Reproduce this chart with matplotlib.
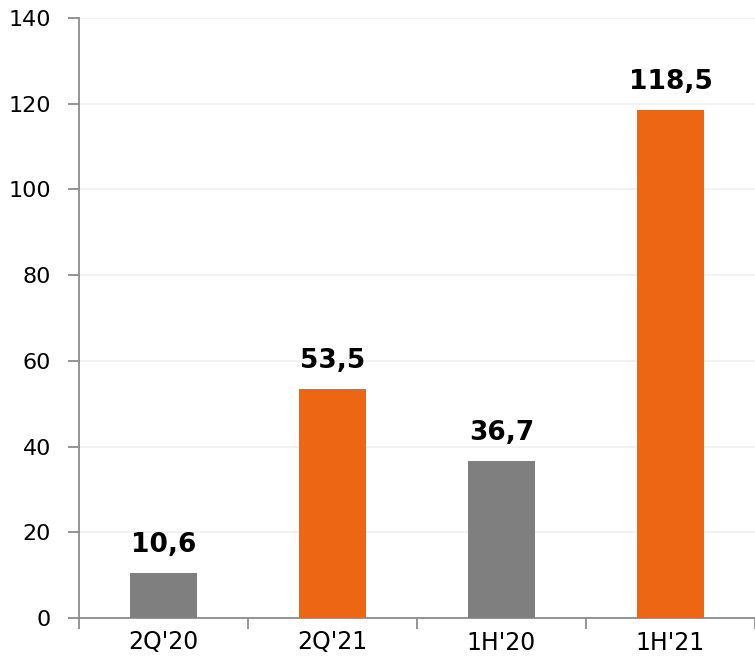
import matplotlib
matplotlib.use("Agg")
import matplotlib.pyplot as plt
from matplotlib.ticker import FixedLocator, NullFormatter

categories = ["2Q'20", "2Q'21", "1H'20", "1H'21"]
values = [10.6, 53.5, 36.7, 118.5]
bar_colors = ["#7F7F7F", "#EC6614", "#7F7F7F", "#EC6614"]
y_ticks = [0, 20, 40, 60, 80, 100, 120, 140]

AXC = "#8C8C8C"
plt.rcParams["font.family"] = "DejaVu Sans"

fig = plt.figure(figsize=(7.55, 6.68), dpi=100)
ax = fig.add_axes([79 / 755, 1 - 618 / 668, 1 - 79 / 755, (618 - 18) / 668])

x = list(range(len(categories)))
ax.bar(x, values, width=0.4, color=bar_colors, zorder=3)
for xi, v in zip(x, values):
    ax.text(xi, v + 3.5, f"{v:.1f}".replace(".", ","), ha="center", va="bottom",
            fontsize=19, fontweight="bold", color="black")

ax.set_xlim(-0.5, len(categories) - 0.5)
ax.set_ylim(0, 140)
ax.set_yticks(y_ticks)
ax.set_yticklabels([str(t) for t in y_ticks], fontsize=16)
ax.set_xticks(x)
ax.set_xticklabels(categories, fontsize=17)
ax.xaxis.set_minor_locator(FixedLocator([i + 0.5 for i in range(-1, len(categories))]))
ax.xaxis.set_minor_formatter(NullFormatter())
ax.tick_params(axis="x", which="major", length=0, pad=9)
ax.tick_params(axis="x", which="minor", length=8, width=1.3, color=AXC)
ax.tick_params(axis="y", length=8, width=1.3, color=AXC, pad=12)

ax.yaxis.grid(True, color="#F0F0F0", linewidth=1.2, zorder=0)
ax.set_axisbelow(True)
for sp in ["top", "right"]:
    ax.spines[sp].set_visible(False)
for sp in ["left", "bottom"]:
    ax.spines[sp].set_color(AXC)
    ax.spines[sp].set_linewidth(1.3)

fig.savefig("out.png", dpi=100)
